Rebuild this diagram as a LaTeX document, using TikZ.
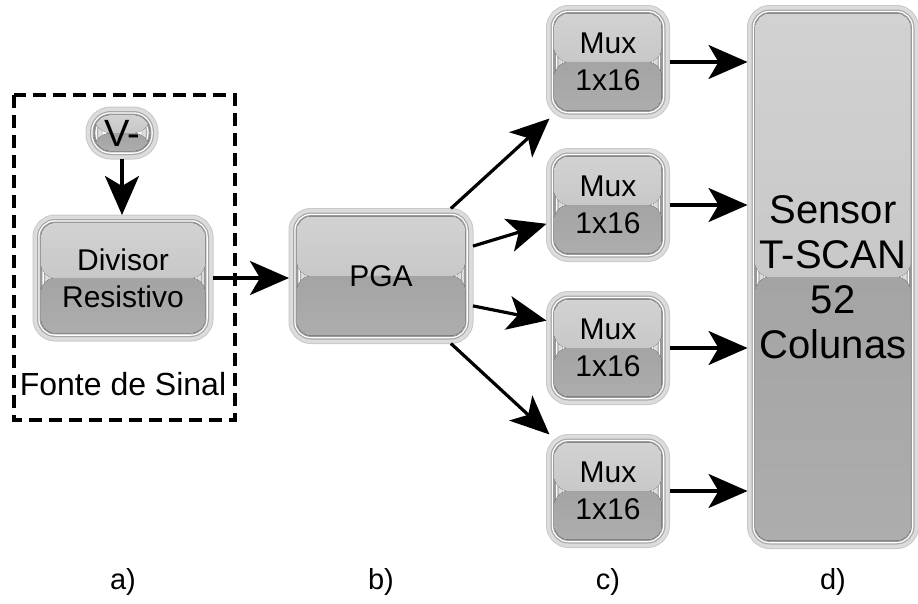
\documentclass[tikz,border=0pt]{standalone}
\usepackage{fontspec}
\setmainfont{Liberation Sans}
\usetikzlibrary{arrows.meta}
\definecolor{gtopA}{HTML}{D2D2D2}
\definecolor{gtopB}{HTML}{BEBEBE}
\definecolor{gbotA}{HTML}{A4A4A4}
\definecolor{gbotB}{HTML}{ADADAD}
\definecolor{frameedge}{HTML}{C8C8C8}
\definecolor{frameband}{HTML}{DCDCDC}
\definecolor{framemid}{HTML}{A8A8A8}
\definecolor{frameline}{HTML}{999999}
\tikzset{
  glossy/.style={rectangle, rounded corners=14pt, inner sep=0pt, outer sep=8pt,
    align=center, text=black,
    preaction={draw=frameedge, line width=17pt, line join=round},
    preaction={draw=frameband, line width=15pt, line join=round},
    preaction={draw=framemid, line width=8pt, line join=round},
    preaction={draw=white, line width=5.5pt, line join=round},
    preaction={draw=frameline, line width=2.8pt, line join=round},
    path picture={
      \fill[top color=gtopA, bottom color=gtopB]
        (path picture bounding box.north west) rectangle (path picture bounding box.east);
      \fill[top color=gbotA, bottom color=gbotB]
        (path picture bounding box.west) rectangle (path picture bounding box.south east);
    }},
  arr/.style={-{Stealth[length=39pt,width=34pt,inset=10pt]}, line width=3.2pt},
  txt/.style={font=\fontsize{30}{37}\selectfont},
  muxbox/.style={glossy, txt, minimum width=107pt, minimum height=97pt},
  lbl/.style={font=\fontsize{29}{34}\selectfont}
}
\begin{document}
\begin{tikzpicture}[x=1pt, y=-1pt]
\useasboundingbox (0,0) rectangle (918,603);
\draw[line width=3.2pt, dash pattern=on 13pt off 7pt] (14,95) rectangle (235,420);

\node[glossy, minimum width=56pt, minimum height=36pt, rounded corners=17pt,
      font=\fontsize{38}{40}\selectfont] (vneg) at (122,133) {V-};
\node[glossy, txt, minimum width=164pt, minimum height=110pt] (div) at (123,278) {Divisor\\Resistivo};
\node[font=\fontsize{32}{36}\selectfont] (src) at (123,384) {Fonte de Sinal};
\node[glossy, txt, minimum width=168pt, minimum height=119pt] (pga) at (381,276) {PGA};
\node[muxbox] (mux1) at (608,62) {Mux\\1x16};
\node[muxbox] (mux2) at (608,205) {Mux\\1x16};
\node[muxbox] (mux3) at (608,348) {Mux\\1x16};
\node[muxbox] (mux4) at (608,491) {Mux\\1x16};
\node[glossy, font=\fontsize{40}{45}\selectfont, minimum width=155pt, minimum height=527pt]
      (sensor) at (833,277) {Sensor\\T-SCAN\\52\\Colunas};

\draw[arr] (vneg.south) -- (vneg.south |- div.north);
\draw[arr] (div.east) -- (div.east -| pga.west);
\draw[arr] (pga.44) -- (mux1.224);
\draw[arr] (pga.18) -- (mux2.197);
\draw[arr] (pga.-18) -- (mux3.156);
\draw[arr] (pga.-44) -- (mux4.136);
\foreach \i in {1,2,3,4}{
  \draw[arr] (mux\i.east) -- (mux\i.east -| sensor.west);
}

\node[lbl] (la) at (123,582) {a)};
\node[lbl] (lb) at (381,582) {b)};
\node[lbl] (lc) at (608,582) {c)};
\node[lbl] (ld) at (833,582) {d)};
\end{tikzpicture}
\end{document}
